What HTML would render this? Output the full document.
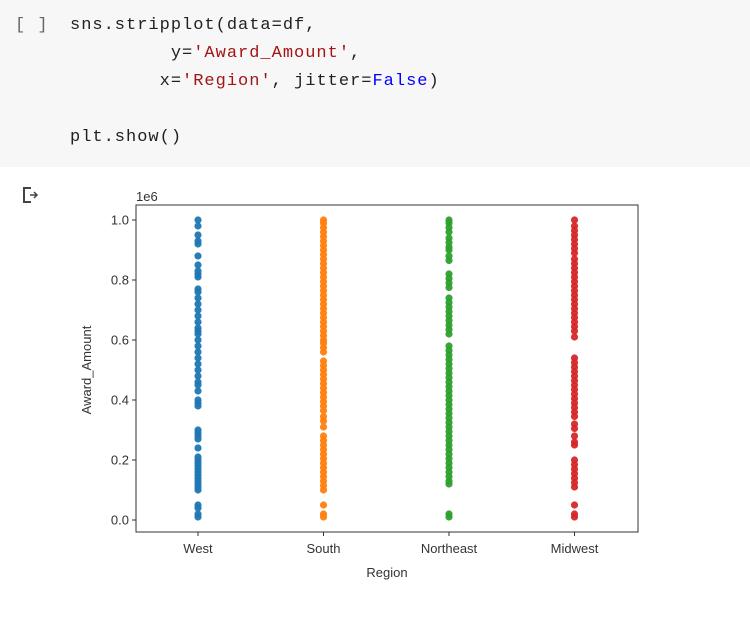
<!DOCTYPE html>
<html><head><meta charset="utf-8"><style>
body{margin:0;width:750px;height:627px;background:#fff;overflow:hidden;font-family:"Liberation Sans",sans-serif}
#cell{position:absolute;left:0;top:0;width:750px;height:167px;background:#f7f7f7}
pre{margin:0;position:absolute;font-family:"Liberation Mono","DejaVu Sans Mono",monospace;font-size:17px;letter-spacing:1px;color:#212121;line-height:28px}
.s{color:#a31515}.k{color:#0000ff}
</style></head><body>
<div id="cell">
<pre style="left:15px;top:12px;color:#666">[ ]</pre>
<pre style="left:70px;top:12px">sns.stripplot(data=df,
         y=<span class="s">'Award_Amount'</span>,
        x=<span class="s">'Region'</span>, jitter=<span class="k">False</span>)

plt.show()</pre>
</div>
<svg style="position:absolute;left:22px;top:186px" width="22" height="20"><path d="M9 2H2V16H9" fill="none" stroke="#444" stroke-width="2"/><path d="M8 9H15M12 6L15 9L12 12" fill="none" stroke="#444" stroke-width="1.5"/></svg>
<svg id="chart" style="position:absolute;left:0;top:0" width="750" height="627"></svg>
<script>
const categories=["West","South","Northeast","Midwest"];
const colors=["#1f77b4","#ff7f0e","#2ca02c","#d62728"];
const yTicks=[0,0.2,0.4,0.6,0.8,1.0];
const westVals=[1000,980,950,930,920,880,850,830,820,810,770,760,740,720,700,680,660,640,630,620,600,580,560,540,520,500,480,460,450,430,400,390,380,300,290,280,270,240,210,200,190,180,170,160,150,140,130,120,110,100,50,40,20,10];
const southVals=[1000,990,975,960,945,930,915,900,885,870,855,840,825,810,795,780,765,750,735,720,705,690,675,660,645,630,615,600,590,575,560,530,515,500,485,470,455,440,425,410,395,380,365,345,330,310,280,265,250,235,220,205,190,175,160,145,130,115,100,50,20,10];
const northeastVals=[1000,990,975,960,940,925,910,900,880,865,820,805,790,775,740,725,710,695,680,665,650,635,620,580,565,550,535,520,505,490,475,460,445,430,415,400,385,370,355,340,325,310,295,280,265,250,235,220,205,190,175,160,145,130,120,20,10];
const midwestVals=[1000,980,965,950,935,920,905,890,870,855,840,825,810,795,780,765,750,735,720,705,690,675,660,645,630,610,540,525,510,495,480,465,450,435,420,405,390,375,360,345,320,305,280,260,250,200,185,170,155,140,125,110,50,20,10];
const series=[westVals,southVals,northeastVals,midwestVals];
const X0=136,X1=638,Y0=205,Y1=532;
const xs=i=>198+i*125.5;
const ys=v=>520-v*300;
const svg=document.getElementById('chart');
const NS="http://www.w3.org/2000/svg";
function mk(t,a){const e=document.createElementNS(NS,t);for(const k in a)e.setAttribute(k,a[k]);svg.appendChild(e);return e;}
series.forEach((vals,i)=>{vals.forEach(v=>{
 const c=mk('circle',{cx:xs(i),cy:ys(v/1000),r:3.6,fill:colors[i],'fill-opacity':0.95});
 
 
});});
const fr=mk('rect',{x:X0,y:Y0,width:X1-X0,height:Y1-Y0,fill:'none',stroke:'#333','stroke-width':1});


yTicks.forEach(t=>{
 mk('line',{x1:X0-4,x2:X0,y1:ys(t),y2:ys(t),stroke:'#333'});
 const tx=mk('text',{x:X0-7,y:ys(t)+4.5,'text-anchor':'end','font-size':13,fill:'#333'});
 tx.textContent=t.toFixed(1);
 
 
});
categories.forEach((c,i)=>{
 mk('line',{x1:xs(i),x2:xs(i),y1:Y1,y2:Y1+4,stroke:'#333'});
 const tx=mk('text',{x:xs(i),y:Y1+21,'text-anchor':'middle','font-size':13,fill:'#333'});
 tx.textContent=c;
 
 
});
const e6=mk('text',{x:136,y:201,'font-size':13,fill:'#333'});e6.textContent='1e6';


const xt=mk('text',{x:387,y:577,'text-anchor':'middle','font-size':13,fill:'#333'});xt.textContent='Region';


const yt=mk('text',{x:0,y:0,'text-anchor':'middle','font-size':13,fill:'#333',transform:'translate(91,370) rotate(-90)'});yt.textContent='Award_Amount';


</script>
</body></html>
